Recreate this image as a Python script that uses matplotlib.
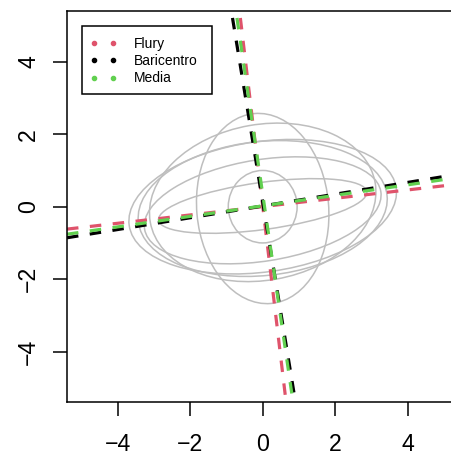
import matplotlib
matplotlib.use("Agg")
import matplotlib.pyplot as plt
from matplotlib.patches import Ellipse, Rectangle
from matplotlib.lines import Line2D

plt.rcParams['font.family'] = ['Liberation Sans', 'DejaVu Sans']

# Group covariance ellipses: semi-axis along the first direction, along the
# second direction, rotation (degrees) and centre
ell_a = [0.95, 1.82, 3.15, 3.72, 3.45, 3.30, 2.90]
ell_b = [1.00, 2.63, 2.15, 1.80, 1.85, 1.40, 0.65]
ell_angle = [0, 5, 10, 8, 6, 9, 7.8]
ell_cx = [0, 0, 0, 0, 0, 0, 0]
ell_cy = [0, -0.05, 0.12, 0, -0.05, -0.1, 0.02]

# Estimated common axes for each method: a point on both axes and the slopes
methods = ["Flury", "Baricentro", "Media"]
method_colors = ["#DF536B", "#000000", "#61D04F"]
centre_x = [0.003, 0.017, 0.046]
centre_y = [0.003, 0.023, 0.030]
slope_first = [0.115, 0.1625, 0.145]
slope_second = [-8.4, -6.1, -6.85]

xticks = [-4, -2, 0, 2, 4]
yticks = [-4, -2, 0, 2, 4]
lim = 5.40

W, H = 451, 457
fig = plt.figure(figsize=(W / 100, H / 100), dpi=100)
left, top, bottom, size = 67, 11, 402.4, 391.4
ax = fig.add_axes([left / W, (H - bottom) / H, size / W, (bottom - top) / H])
ax.set_xlim(-lim, lim)
ax.set_ylim(-lim, lim)

for a, b, ang, cx, cy in zip(ell_a, ell_b, ell_angle, ell_cx, ell_cy):
    ax.add_patch(Ellipse((cx, cy), 2 * a, 2 * b, angle=ang, fill=False,
                         edgecolor="#BEBEBE", linewidth=1.1))

for cx, cy, s1, s2, col in zip(centre_x, centre_y, slope_first, slope_second,
                               method_colors):
    ax.axline((cx, cy), slope=s1, color=col, linewidth=2.3,
              linestyle=(0, (3.6, 3.6)), dash_capstyle='butt')
    ax.axline((cx, cy), slope=s2, color=col, linewidth=2.3,
              linestyle=(5.0, (3.6, 3.6)), dash_capstyle='butt')

ax.set_xticks(xticks)
ax.set_yticks(yticks)
ax.set_xticklabels([f"{v}".replace("-", "\u2212") for v in xticks])
ax.set_yticklabels([f"{v}".replace("-", "\u2212") for v in yticks])
ax.tick_params(axis='both', direction='out', length=10.4, width=1.1,
               labelsize=16.7, color='black')
ax.tick_params(axis='x', pad=11.5)
ax.tick_params(axis='y', pad=9, labelrotation=90)
for lab in ax.get_yticklabels():
    lab.set_verticalalignment('center')
for sp in ax.spines.values():
    sp.set_linewidth(1.1)

# Legend with two dots per entry inside a plain box
handles = [Line2D([], [], linestyle='none', marker='o', markersize=3.0,
                  color=c) for c in method_colors]
leg = ax.legend(handles, methods, loc='upper left', numpoints=2,
                bbox_to_anchor=(79.0 / W, 1 - 25.7 / H),
                bbox_transform=fig.transFigure, borderaxespad=0,
                frameon=False, fontsize=10.0, handlelength=1.93,
                handletextpad=1.23, borderpad=0.8, labelspacing=0.24)
fig.patches.append(Rectangle((81.7 / W, 1 - 94.3 / H), 130.6 / W, 68.6 / H,
                             transform=fig.transFigure, fill=False,
                             edgecolor='black', linewidth=1.1))

fig.savefig("out.png", dpi=100)
